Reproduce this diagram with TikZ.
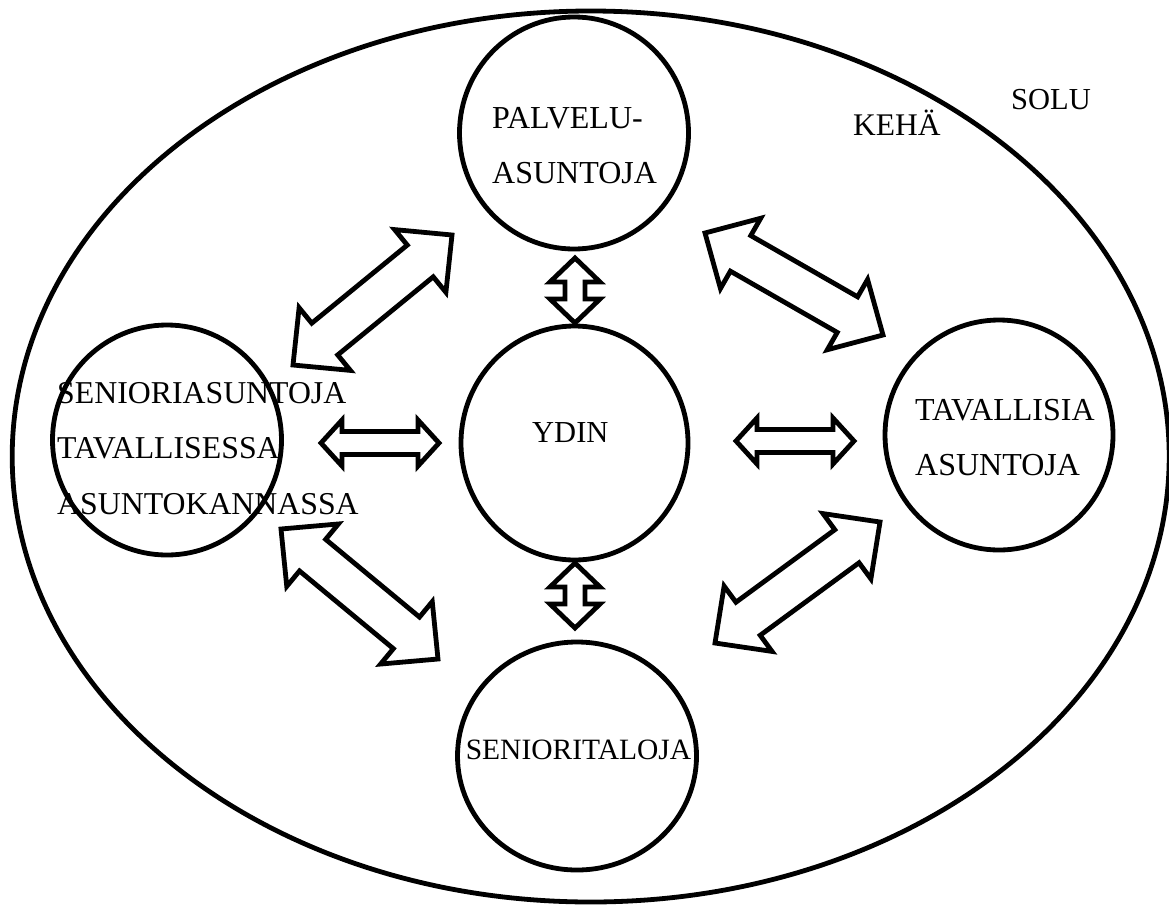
\documentclass[tikz,border=0pt]{standalone}
\usepackage{fontspec}
\setmainfont{Liberation Serif}
\usetikzlibrary{shapes.geometric,calc}

\tikzset{
  piiri/.style={draw, ellipse, line width=4.8pt, inner sep=0pt},
  teksti/.style={font=\fontsize{#1}{55.5}\selectfont, inner sep=0pt, align=left},
  teksti/.default=30.5,
  nuolireuna/.style={draw, line width=4.8pt, line join=miter, fill=white}
}

% double block arrow: head length, head half width, shaft half width, end, end
\newcommand{\nuoli}[5]{%
  \draw[nuolireuna] (#4) -- ($(#4)!#1!(#5)!#2!90:(#5)$) -- ($(#4)!#1!(#5)!#3!90:(#5)$)
    -- ($(#5)!#1!(#4)!#3!-90:(#4)$) -- ($(#5)!#1!(#4)!#2!-90:(#4)$) -- (#5)
    -- ($(#5)!#1!(#4)!#2!90:(#4)$) -- ($(#5)!#1!(#4)!#3!90:(#4)$)
    -- ($(#4)!#1!(#5)!#3!-90:(#5)$) -- ($(#4)!#1!(#5)!#2!-90:(#5)$) -- cycle;}

\begin{document}
\begin{tikzpicture}[x=1pt, y=-1pt]
  \useasboundingbox (0,0) rectangle (1169,905);

  % Solu
  \node[piiri, minimum width=1157, minimum height=891] (solu) at (590.7,456.5) {};

  % Circles
  \node[piiri, minimum width=229, minimum height=232] (palvelu) at (574,133) {};
  \node[piiri, minimum width=227, minimum height=234] (ydin) at (574.5,443) {};
  \node[piiri, minimum width=239, minimum height=228] (senioritalo) at (577,756) {};
  \node[piiri, minimum width=228, minimum height=230] (tavallinen) at (999,435) {};
  \node[piiri, minimum width=229, minimum height=230] (asuntokanta) at (167,440) {};

  % Arrow ends
  \coordinate (vy1) at (293,365);  \coordinate (vy2) at (452,235);
  \coordinate (oy1) at (705,233);  \coordinate (oy2) at (883,335);
  \coordinate (oa1) at (715,643);  \coordinate (oa2) at (880,522);
  \coordinate (va1) at (281,529);  \coordinate (va2) at (438,659);
  \coordinate (ky1) at (575,258);  \coordinate (ky2) at (575,323);
  \coordinate (ka1) at (575,563);  \coordinate (ka2) at (575,628);
  \coordinate (vk1) at (321,443);  \coordinate (vk2) at (439,443);
  \coordinate (ok1) at (736,441);  \coordinate (ok2) at (854,441);

  % Arrows
  \foreach \a/\b in {vy1/vy2, oy1/oy2, oa1/oa2, va1/va2}
    \nuoli{41pt}{40.5pt}{20.5pt}{\a}{\b};
  \foreach \a/\b in {ky1/ky2, ka1/ka2}
    \nuoli{24pt}{25pt}{10pt}{\a}{\b};
  \foreach \a/\b in {vk1/vk2, ok1/ok2}
    \nuoli{21pt}{23pt}{11.5pt}{\a}{\b};

  % Texts
  \node[teksti, anchor=base west] (solunimi) at (1011,109) {SOLU};
  \node[teksti=31.5, anchor=base west] (kehanimi) at (853,135) {KEHÄ};
  \node[teksti, anchor=base west] (ydinnimi) at (532,442) {YDIN};
  \node[teksti=29.5, anchor=base] (talonimi) at (578.5,759) {SENIORITALOJA};
  \node[teksti=32, anchor=north west] (palvelunimi) at (492,106.8) {PALVELU-\\ASUNTOJA};
  \node[teksti=32, anchor=north west] (tavallinennimi) at (915,398.8) {TAVALLISIA\\ASUNTOJA};
  \node[teksti=31.8, anchor=north west] (kantanimi) at (57,382) {SENIORIASUNTOJA\\TAVALLISESSA\\ASUNTOKANNASSA};
\end{tikzpicture}
\end{document}
